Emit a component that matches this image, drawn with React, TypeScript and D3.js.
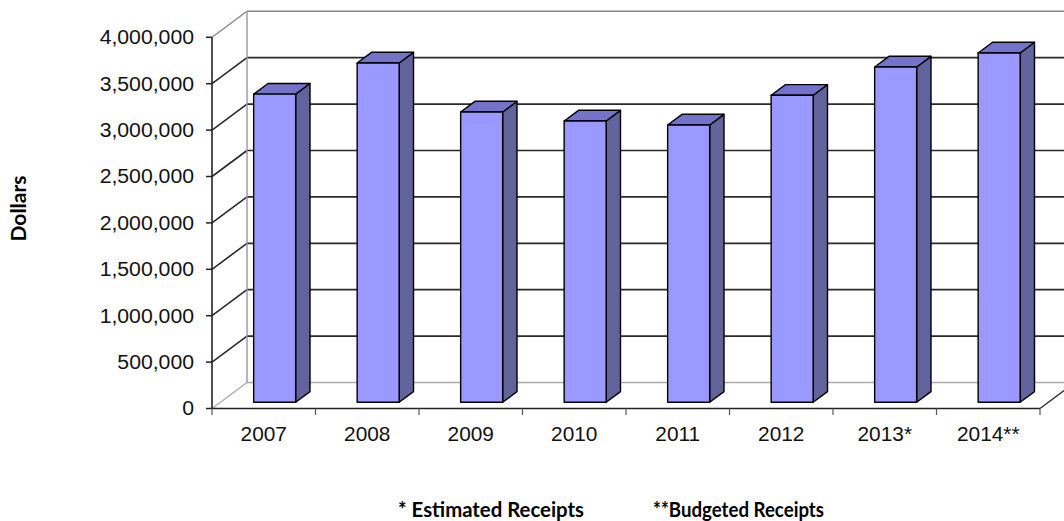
import React from "react";
import * as d3 from "d3";

const categories = ["2007", "2008", "2009", "2010", "2011", "2012", "2013*", "2014**"];
const receipts = [3320000, 3656000, 3128000, 3031000, 2988000, 3308000, 3613000, 3764000];
const yTicks = [0, 500000, 1000000, 1500000, 2000000, 2500000, 3000000, 3500000, 4000000];
const footnotes = ["* Estimated Receipts", "**Budgeted Receipts"];

const W = 1064;
const H = 521;
const DX = 35;
const DY = -26;
const ZF = 0.24;
const ZB = 0.65;
const BAR_W = 42;

export default function App() {
  const x = d3.scaleBand<string>().domain(categories).range([212, 1040]).padding(0);
  const y = d3.scaleLinear().domain([0, 4000000]).range([408.5, 37.3]);
  const fmt = d3.format(",");
  const xEnd = 1040;

  const bars = categories.map((c, i) => {
    const v = receipts[i];
    const cx = (x(c) as number) + x.bandwidth() / 2 + 2.5;
    const x0 = cx - BAR_W / 2 + ZF * DX;
    const x1 = x0 + BAR_W;
    const yT = y(v) + ZF * DY;
    const yB = y(0) + ZF * DY;
    const ddx = (ZB - ZF) * DX;
    const ddy = (ZB - ZF) * DY;
    return { c, x0, x1, yT, yB, ddx, ddy };
  });

  const lab = { fontFamily: "'Liberation Sans', Arial, sans-serif", fontSize: 19.3, fill: "#111" };

  return (
    <div style={{ position: "fixed", left: 0, top: 0, width: W, height: H, overflow: "hidden", background: "#fff" }}>
      <svg width={W} height={H} style={{ display: "block" }}>
        <rect width={W} height={H} fill="#fff" />
        {/* back wall gridlines */}
        {yTicks.map((t) => (
          <line
            key={"g" + t}
            x1={212 + DX}
            x2={xEnd + DX + 20}
            y1={y(t) + DY}
            y2={y(t) + DY}
            stroke={t === 0 ? "#aaa" : t === 4000000 ? "#888" : "#2a2a2a"}
            strokeWidth={t === 0 || t === 4000000 ? 1.4 : 1.7}
          />
        ))}
        {/* left wall diagonals */}
        {yTicks.map((t) => (
          <line
            key={"d" + t}
            x1={212}
            x2={212 + DX}
            y1={y(t)}
            y2={y(t) + DY}
            stroke={t === 0 ? "#aaa" : t === 4000000 ? "#888" : "#2a2a2a"}
            strokeWidth={t === 0 || t === 4000000 ? 1.4 : 1.6}
          />
        ))}
        {/* back wall left edge */}
        <line x1={212 + DX} x2={212 + DX} y1={y(4000000) + DY} y2={y(0) + DY} stroke="#999" strokeWidth={1.4} />
        {/* floor right diagonal */}
        <line x1={xEnd} x2={xEnd + DX} y1={y(0)} y2={y(0) + DY} stroke="#333" strokeWidth={1.5} />
        {/* bars */}
        {bars.map((b) => (
          <g key={b.c} stroke="#000" strokeWidth={1.4} strokeLinejoin="round">
            <polygon
              points={`${b.x1},${b.yT} ${b.x1 + b.ddx},${b.yT + b.ddy} ${b.x1 + b.ddx},${b.yB + b.ddy} ${b.x1},${b.yB}`}
              fill="#63639c"
            />
            <polygon
              points={`${b.x0},${b.yT} ${b.x1},${b.yT} ${b.x1 + b.ddx},${b.yT + b.ddy} ${b.x0 + b.ddx},${b.yT + b.ddy}`}
              fill="#7373c9"
            />
            <rect x={b.x0} y={b.yT} width={b.x1 - b.x0} height={b.yB - b.yT} fill="#9999ff" />
          </g>
        ))}
        {/* front floor line */}
        <line x1={212} x2={xEnd} y1={y(0)} y2={y(0)} stroke="#222" strokeWidth={1.6} />
        {/* left axis */}
        <line x1={212} x2={212} y1={y(4000000)} y2={y(0)} stroke="#222" strokeWidth={1.6} />
        {yTicks.map((t) => (
          <g key={"t" + t}>
            <line x1={206} x2={212} y1={y(t)} y2={y(t)} stroke="#222" strokeWidth={1.5} />
            <text
              transform={`translate(194,${y(t) + 6.9}) scale(1.1,1)`}
              textAnchor="end"
              {...lab}
            >
              {fmt(t)}
            </text>
          </g>
        ))}
        {/* x ticks and labels */}
        {[...categories.map((c) => x(c) as number), xEnd].map((px, i) => (
          <line key={"xt" + i} x1={px} x2={px} y1={y(0)} y2={y(0) + 6.5} stroke="#555" strokeWidth={1.2} />
        ))}
        {categories.map((c) => (
          <text
            key={"xl" + c}
            transform={`translate(${(x(c) as number) + x.bandwidth() / 2},441) scale(1.08,1)`}
            textAnchor="middle"
            {...lab}
          >
            {c}
          </text>
        ))}
        {/* y axis title */}
        <text
          transform="translate(26,208.5) rotate(-90)"
          textAnchor="middle"
          fontFamily="Lato, 'Open Sans', sans-serif"
          fontWeight="bold"
          fontSize={21}
          fill="#000"
        >
          Dollars
        </text>
        {/* footnotes */}
        <text x={398} y={517} fontFamily="Lato, 'Open Sans', sans-serif" fontWeight="bold" fontSize={20.5} fill="#000"
          textLength={186} lengthAdjust="spacingAndGlyphs">
          {footnotes[0]}
        </text>
        <text x={653} y={517} fontFamily="Lato, 'Open Sans', sans-serif" fontWeight="bold" fontSize={20.5} fill="#000"
          textLength={171} lengthAdjust="spacingAndGlyphs">
          {footnotes[1]}
        </text>
      </svg>
    </div>
  );
}
